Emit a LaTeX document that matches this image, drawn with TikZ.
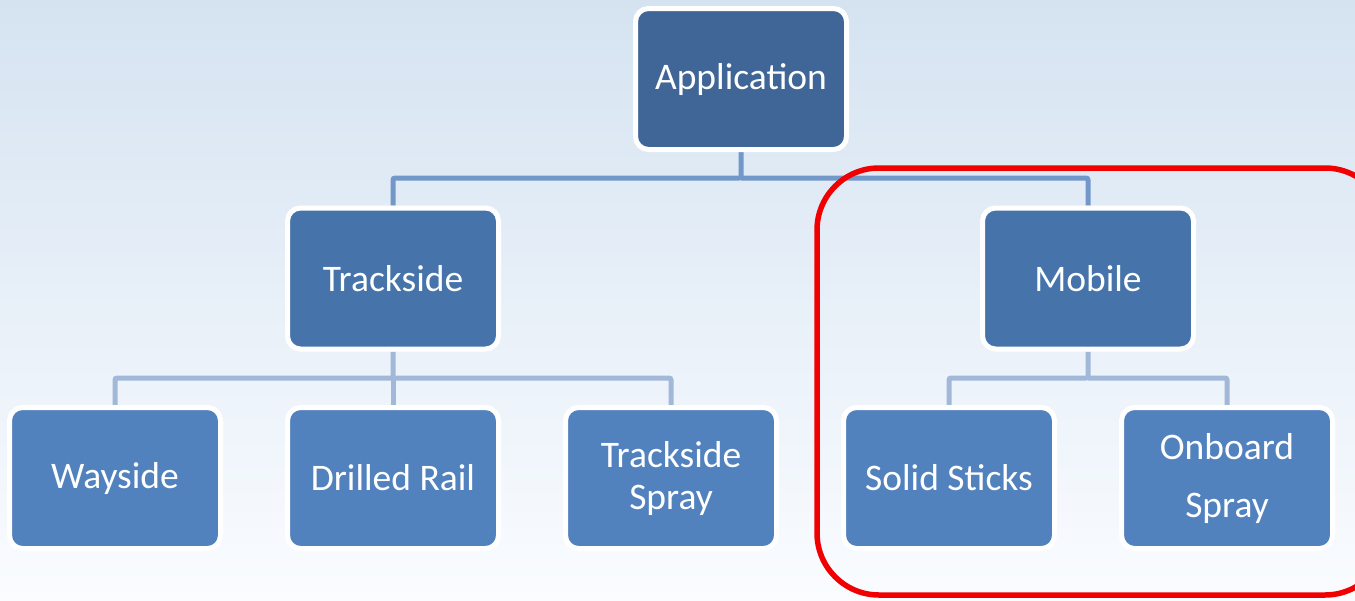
\documentclass[tikz,border=0pt]{standalone}
\usepackage{fontspec}
\setmainfont{Carlito}
\usetikzlibrary{backgrounds}
\definecolor{bgtop}{HTML}{D5E3F1}
\definecolor{bgbot}{HTML}{FAFCFF}
\definecolor{lvlzero}{HTML}{3F6696}
\definecolor{lvlone}{HTML}{4674AA}
\definecolor{lvltwo}{HTML}{5282BE}
\definecolor{conone}{HTML}{7298C9}
\definecolor{contwo}{HTML}{A2B8D9}
\definecolor{hilite}{HTML}{F00000}
\tikzset{
  box/.style={rectangle, rounded corners=13pt, draw=white, line width=5pt,
    minimum width=211pt, minimum height=141pt, inner sep=0pt,
    text=white, align=center, font=\fontsize{37.5}{42}\selectfont},
  boxzero/.style={box, fill=lvlzero},
  boxone/.style={box, fill=lvlone},
  boxtwo/.style={box, fill=lvltwo},
  conn/.style={line width=5pt, rounded corners=2pt},
}
\begin{document}
\begin{tikzpicture}[x=1pt,y=-1pt]
\useasboundingbox (0,0) rectangle (1355,600);
\clip (0,0) rectangle (1355,600);
\begin{scope}[on background layer]
  \shade[top color=bgtop, bottom color=bgbot] (0,0) rectangle (1355,600);
\end{scope}

\node[boxzero] (app) at (741,79) {Application};
\node[boxone] (trk) at (393,278.5) {Trackside};
\node[boxone] (mob) at (1088,278.5) {Mobile};
\node[boxtwo] (way) at (115,478) {Wayside};
\node[boxtwo] (dri) at (393,478) {Drilled Rail};
\node[boxtwo, font=\fontsize{37.5}{42}\selectfont] (tsp) at (671,478) {Trackside\\Spray};
\node[boxtwo, font=\fontsize{37.5}{58}\selectfont] (onb) at (1227,478) {Onboard\\Spray};
\node[boxtwo] (sol) at (949,478) {Solid Sticks};

\coordinate (jzero) at (741,178);
\coordinate (jone) at (393,378);
\coordinate (jtwo) at (1088,378);

\begin{scope}[on background layer]
  \draw[conn, conone] (app.south) -- (jzero) -| (trk.north);
  \draw[conn, conone] (jzero) -| (mob.north);
  \draw[conn, contwo] (trk.south) -- (jone) -| (way.north);
  \draw[conn, contwo] (jone) -| (tsp.north);
  \draw[conn, contwo] (jone) -- (dri.north);
  \draw[conn, contwo] (mob.south) -- (jtwo) -| (sol.north);
  \draw[conn, contwo] (jtwo) -| (onb.north);
\end{scope}

\node[draw=hilite, line width=5.5pt, rounded corners=62pt, minimum width=570pt,
  minimum height=427pt, inner sep=0pt] (hl) at (1102,381.5) {};
\end{tikzpicture}
\end{document}
